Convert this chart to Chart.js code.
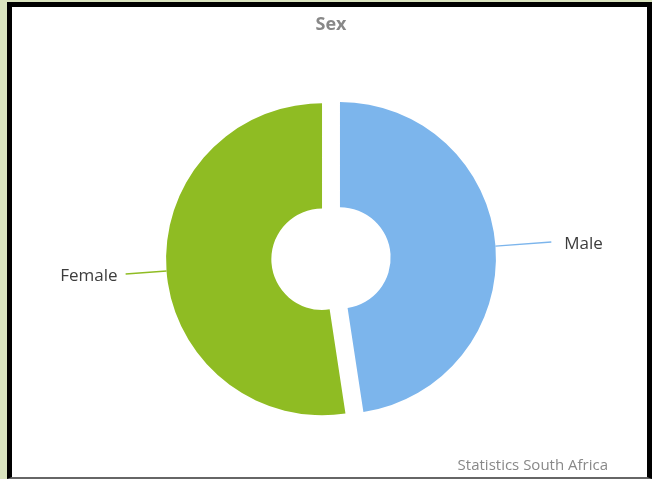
<!DOCTYPE html>
<html>
<head>
<meta charset="utf-8">
<title>Sex</title>
<script src="https://cdn.jsdelivr.net/npm/chart.js@4.4.1/dist/chart.umd.min.js"></script>
<style>
  html, body { margin: 0; padding: 0; }
  body { width: 652px; height: 479px; background: #dae4bf; position: relative; overflow: hidden; }
  #frame {
    position: absolute; left: 7px; top: 2px; width: 635px; height: 470px;
    background: #fff; border: 5px solid #000; border-bottom: 2px solid #666;
  }
</style>
</head>
<body>
<div id="frame"><canvas id="sexChart"></canvas></div>
<script>
const categories = ['Male', 'Female'];
const shares = [47.6, 52.4];
const sliceColors = ['#7cb5ec', '#8fbc23'];

// every slice is pulled out from the centre by this many pixels
const SLICE_SHIFT = 9;
// connector length and gap before the label text, per slice
const connectors = [{ len: 56, gap: 13 }, { len: 41, gap: 8 }];

// draw arcs translated along their mid angle, without the radius growth of `offset`
const baseArcDraw = Chart.ArcElement.prototype.draw;
Chart.ArcElement.prototype.draw = function (ctx) {
  const mid = (this.startAngle + this.endAngle) / 2;
  ctx.save();
  ctx.translate(Math.cos(mid) * SLICE_SHIFT, Math.sin(mid) * SLICE_SHIFT);
  baseArcDraw.call(this, ctx);
  ctx.restore();
};

const sliceLabels = {
  id: 'sliceLabels',
  afterDatasetsDraw(chart) {
    const { ctx } = chart;
    const meta = chart.getDatasetMeta(0);
    ctx.save();
    ctx.font = '17px "Open Sans"';
    ctx.textBaseline = 'middle';
    meta.data.forEach((arc, i) => {
      const { x, y, startAngle, endAngle, outerRadius } =
        arc.getProps(['x', 'y', 'startAngle', 'endAngle', 'outerRadius'], true);
      const mid = (startAngle + endAngle) / 2;
      const cos = Math.cos(mid), sin = Math.sin(mid);
      const r0 = outerRadius + SLICE_SHIFT;
      const r1 = r0 + connectors[i].len;
      const x1 = x + cos * r1, y1 = y + sin * r1;

      ctx.beginPath();
      ctx.moveTo(x + cos * r0, y + sin * r0);
      ctx.lineTo(x1, y1);
      ctx.strokeStyle = sliceColors[i];
      ctx.lineWidth = 1.5;
      ctx.stroke();

      const right = cos >= 0;
      ctx.textAlign = right ? 'left' : 'right';
      ctx.fillStyle = '#3d3d3d';
      ctx.fillText(categories[i], x1 + (right ? 1 : -1) * connectors[i].gap, y1 + 2);
    });
    ctx.restore();
  }
};

new Chart(document.getElementById('sexChart'), {
  type: 'doughnut',
  data: {
    labels: categories,
    datasets: [{
      data: shares,
      backgroundColor: sliceColors,
      borderWidth: 0,
      hoverOffset: 0
    }]
  },
  options: {
    responsive: true,
    maintainAspectRatio: false,
    animation: false,
    events: [],
    cutout: '32.5%',
    layout: { padding: { left: 42, right: 39 } },
    plugins: {
      legend: { display: false },
      tooltip: { enabled: false },
      title: {
        display: true,
        text: 'Sex',
        color: '#888',
        font: { family: 'Open Sans', size: 18, weight: 'bold', lineHeight: 1.2 },
        padding: { top: 7, bottom: 67 }
      },
      subtitle: {
        display: true,
        position: 'bottom',
        align: 'end',
        text: 'Statistics South Africa',
        color: '#888',
        font: { family: 'Open Sans', size: 15, lineHeight: 1.2 },
        padding: { top: 42.5, bottom: 2 }
      }
    }
  },
  plugins: [sliceLabels]
});
</script>
</body>
</html>
